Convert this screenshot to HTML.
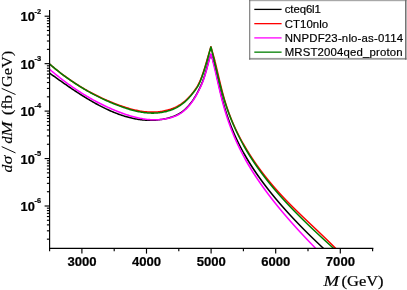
<!DOCTYPE html>
<html><head><meta charset="utf-8"><title>chart</title>
<style>html,body{margin:0;padding:0;background:#fff;}body{width:407px;height:290px;overflow:hidden;position:relative;font-family:"Liberation Sans",sans-serif;}</style>
</head><body>
<svg width="407" height="290" viewBox="0 0 407 290" style="display:block;position:absolute;left:0;top:0;will-change:transform">
<rect x="0" y="0" width="407" height="290" fill="#ffffff"/>
<defs><clipPath id="cp"><rect x="49.6" y="0" width="328.2" height="248.3"/></clipPath></defs>
<g clip-path="url(#cp)" fill="none" stroke-linejoin="round" stroke-linecap="butt">
<path d="M49.60,73.13 L50.60,73.85 L51.60,74.57 L52.60,75.29 L53.60,76.00 L54.60,76.72 L55.60,77.44 L56.60,78.15 L57.60,78.86 L58.60,79.57 L59.60,80.28 L60.60,80.99 L61.60,81.69 L62.60,82.40 L63.60,83.10 L64.60,83.79 L65.60,84.49 L66.60,85.18 L67.60,85.87 L68.60,86.56 L69.60,87.24 L70.60,87.92 L71.60,88.59 L72.60,89.27 L73.60,89.94 L74.60,90.60 L75.60,91.26 L76.60,91.92 L77.60,92.57 L78.60,93.22 L79.60,93.86 L80.60,94.50 L81.60,95.14 L82.60,95.77 L83.60,96.39 L84.60,97.01 L85.60,97.63 L86.60,98.24 L87.60,98.84 L88.60,99.44 L89.60,100.03 L90.60,100.62 L91.60,101.20 L92.60,101.77 L93.60,102.34 L94.60,102.90 L95.60,103.46 L96.60,104.01 L97.60,104.55 L98.60,105.09 L99.60,105.61 L100.60,106.14 L101.60,106.65 L102.60,107.16 L103.60,107.66 L104.60,108.15 L105.60,108.63 L106.60,109.11 L107.60,109.57 L108.60,110.03 L109.60,110.49 L110.60,110.93 L111.60,111.36 L112.60,111.79 L113.60,112.21 L114.60,112.62 L115.60,113.01 L116.60,113.40 L117.60,113.79 L118.60,114.16 L119.60,114.52 L120.60,114.87 L121.60,115.21 L122.60,115.55 L123.60,115.87 L124.60,116.18 L125.60,116.48 L126.60,116.78 L127.60,117.06 L128.60,117.33 L129.60,117.59 L130.60,117.84 L131.60,118.07 L132.60,118.30 L133.60,118.52 L134.60,118.72 L135.60,118.91 L136.60,119.09 L137.60,119.26 L138.60,119.42 L139.60,119.56 L140.60,119.69 L141.60,119.81 L142.60,119.92 L143.60,120.02 L144.60,120.10 L145.60,120.17 L146.60,120.23 L147.60,120.27 L148.60,120.30 L149.60,120.32 L150.60,120.32 L151.60,120.31 L152.60,120.29 L153.60,120.25 L154.60,120.20 L155.60,120.13 L156.60,120.05 L157.60,119.96 L158.60,119.85 L159.60,119.73 L160.60,119.59 L161.60,119.43 L162.60,119.27 L163.60,119.08 L164.60,118.88 L165.60,118.67 L166.60,118.44 L167.60,118.20 L168.60,117.94 L169.60,117.66 L170.60,117.36 L171.60,117.05 L172.60,116.71 L173.60,116.34 L174.60,115.94 L175.60,115.51 L176.60,115.04 L177.60,114.54 L178.60,114.00 L179.60,113.41 L180.60,112.78 L181.60,112.10 L182.60,111.36 L183.60,110.57 L184.60,109.73 L185.60,108.82 L186.60,107.86 L187.60,106.82 L188.60,105.72 L189.60,104.55 L190.60,103.30 L191.60,101.98 L192.60,100.58 L193.60,99.10 L194.60,97.53 L195.60,95.87 L196.60,94.13 L197.60,92.29 L198.60,90.35 L199.60,88.32 L200.60,86.19 L201.60,83.90 L202.60,81.42 L203.60,78.69 L204.60,75.67 L205.60,72.33 L206.60,68.69 L207.60,64.94 L208.60,61.29 L208.95,60.00 L210.90,54.40 L213.00,60.00 L213.48,62.00 L214.05,64.00 L214.58,66.00 L215.08,68.00 L215.55,70.00 L216.01,72.00 L216.46,74.00 L216.89,76.00 L217.33,78.00 L217.76,80.00 L218.20,82.00 L218.65,84.00 L219.09,86.00 L219.55,88.00 L220.01,90.00 L220.49,92.00 L220.97,94.00 L221.46,96.00 L221.97,98.00 L222.49,100.00 L223.03,102.00 L223.59,104.00 L224.16,106.00 L224.75,108.00 L225.36,110.00 L225.99,112.00 L226.64,114.00 L227.31,116.00 L228.00,118.00 L228.71,120.00 L229.44,122.00 L230.19,124.00 L230.96,126.00 L231.76,128.00 L232.58,130.00 L233.42,132.00 L234.28,134.00 L235.17,136.00 L236.08,138.00 L237.02,140.00 L237.98,142.00 L238.96,144.00 L239.97,146.00 L241.01,148.00 L242.07,150.00 L243.16,152.00 L244.27,154.00 L245.41,156.00 L246.58,158.00 L247.77,160.00 L248.99,162.00 L250.23,164.00 L251.50,166.00 L252.80,168.00 L254.12,170.00 L255.47,172.00 L256.84,174.00 L258.24,176.00 L259.66,178.00 L261.10,180.00 L262.57,182.00 L264.06,184.00 L265.58,186.00 L267.12,188.00 L268.68,190.00 L270.26,192.00 L271.87,194.00 L273.50,196.00 L275.15,198.00 L276.83,200.00 L278.52,202.00 L280.24,204.00 L281.98,206.00 L283.74,208.00 L285.52,210.00 L287.32,212.00 L289.15,214.00 L290.99,216.00 L292.85,218.00 L294.73,220.00 L296.64,222.00 L298.56,224.00 L300.50,226.00 L302.46,228.00 L304.44,230.00 L306.44,232.00 L308.45,234.00 L310.49,236.00 L312.54,238.00 L314.61,240.00 L316.70,242.00 L318.80,244.00 L320.92,246.00 L323.06,248.00 L325.21,250.00" stroke="#000000" stroke-width="1.55"/>
<path d="M49.60,64.07 L50.60,64.92 L51.60,65.77 L52.60,66.61 L53.60,67.44 L54.60,68.26 L55.60,69.07 L56.60,69.88 L57.60,70.67 L58.60,71.46 L59.60,72.24 L60.60,73.01 L61.60,73.77 L62.60,74.52 L63.60,75.27 L64.60,76.00 L65.60,76.73 L66.60,77.45 L67.60,78.16 L68.60,78.87 L69.60,79.57 L70.60,80.25 L71.60,80.94 L72.60,81.61 L73.60,82.27 L74.60,82.93 L75.60,83.58 L76.60,84.22 L77.60,84.86 L78.60,85.49 L79.60,86.11 L80.60,86.72 L81.60,87.32 L82.60,87.92 L83.60,88.51 L84.60,89.10 L85.60,89.67 L86.60,90.24 L87.60,90.81 L88.60,91.36 L89.60,91.91 L90.60,92.45 L91.60,92.99 L92.60,93.51 L93.60,94.04 L94.60,94.55 L95.60,95.06 L96.60,95.56 L97.60,96.05 L98.60,96.54 L99.60,97.02 L100.60,97.50 L101.60,97.97 L102.60,98.43 L103.60,98.89 L104.60,99.34 L105.60,99.78 L106.60,100.22 L107.60,100.66 L108.60,101.08 L109.60,101.50 L110.60,101.92 L111.60,102.33 L112.60,102.73 L113.60,103.13 L114.60,103.52 L115.60,103.90 L116.60,104.28 L117.60,104.66 L118.60,105.03 L119.60,105.39 L120.60,105.75 L121.60,106.10 L122.60,106.44 L123.60,106.78 L124.60,107.11 L125.60,107.43 L126.60,107.75 L127.60,108.05 L128.60,108.35 L129.60,108.64 L130.60,108.92 L131.60,109.19 L132.60,109.45 L133.60,109.70 L134.60,109.93 L135.60,110.16 L136.60,110.38 L137.60,110.59 L138.60,110.78 L139.60,110.97 L140.60,111.14 L141.60,111.30 L142.60,111.44 L143.60,111.58 L144.60,111.69 L145.60,111.80 L146.60,111.89 L147.60,111.97 L148.60,112.03 L149.60,112.08 L150.60,112.12 L151.60,112.14 L152.60,112.14 L153.60,112.12 L154.60,112.10 L155.60,112.05 L156.60,111.99 L157.60,111.91 L158.60,111.81 L159.60,111.69 L160.60,111.56 L161.60,111.41 L162.60,111.24 L163.60,111.05 L164.60,110.84 L165.60,110.61 L166.60,110.36 L167.60,110.10 L168.60,109.81 L169.60,109.50 L170.60,109.17 L171.60,108.81 L172.60,108.43 L173.60,108.02 L174.60,107.59 L175.60,107.12 L176.60,106.62 L177.60,106.09 L178.60,105.53 L179.60,104.93 L180.60,104.29 L181.60,103.61 L182.60,102.89 L183.60,102.13 L184.60,101.33 L185.60,100.48 L186.60,99.58 L187.60,98.64 L188.60,97.64 L189.60,96.59 L190.60,95.49 L191.60,94.33 L192.60,93.11 L193.60,91.83 L194.60,90.49 L195.60,89.07 L196.60,87.54 L197.60,85.84 L198.60,83.95 L199.60,81.83 L200.60,79.48 L201.60,76.93 L202.60,74.17 L203.60,71.23 L204.60,68.12 L205.60,64.88 L206.60,61.53 L207.05,60.00 L210.90,46.70 L214.65,60.00 L215.10,62.00 L215.60,64.00 L216.08,66.00 L216.56,68.00 L217.04,70.00 L217.51,72.00 L217.98,74.00 L218.45,76.00 L218.92,78.00 L219.39,80.00 L219.87,82.00 L220.35,84.00 L220.84,86.00 L221.34,88.00 L221.85,90.00 L222.37,92.00 L222.91,94.00 L223.46,96.00 L224.02,98.00 L224.60,100.00 L225.21,102.00 L225.83,104.00 L226.47,106.00 L227.14,108.00 L227.84,110.00 L228.55,112.00 L229.29,114.00 L230.05,116.00 L230.84,118.00 L231.65,120.00 L232.49,122.00 L233.35,124.00 L234.23,126.00 L235.14,128.00 L236.08,130.00 L237.04,132.00 L238.03,134.00 L239.04,136.00 L240.08,138.00 L241.14,140.00 L242.23,142.00 L243.35,144.00 L244.49,146.00 L245.66,148.00 L246.86,150.00 L248.08,152.00 L249.33,154.00 L250.61,156.00 L251.92,158.00 L253.25,160.00 L254.61,162.00 L256.00,164.00 L257.42,166.00 L258.86,168.00 L260.34,170.00 L261.84,172.00 L263.37,174.00 L264.93,176.00 L266.51,178.00 L268.13,180.00 L269.77,182.00 L271.44,184.00 L273.15,186.00 L274.88,188.00 L276.64,190.00 L278.42,192.00 L280.24,194.00 L282.09,196.00 L283.96,198.00 L285.87,200.00 L287.80,202.00 L289.77,204.00 L291.75,206.00 L293.76,208.00 L295.79,210.00 L297.84,212.00 L299.91,214.00 L301.98,216.00 L304.07,218.00 L306.17,220.00 L308.28,222.00 L310.39,224.00 L312.51,226.00 L314.62,228.00 L316.73,230.00 L318.84,232.00 L320.94,234.00 L323.03,236.00 L325.12,238.00 L327.19,240.00 L329.24,242.00 L331.28,244.00 L333.29,246.00 L335.29,248.00 L337.26,250.00" stroke="#ff0000" stroke-width="1.55"/>
<path d="M49.60,69.28 L50.60,70.14 L51.60,70.98 L52.60,71.82 L53.60,72.66 L54.60,73.48 L55.60,74.30 L56.60,75.11 L57.60,75.91 L58.60,76.71 L59.60,77.50 L60.60,78.28 L61.60,79.05 L62.60,79.82 L63.60,80.58 L64.60,81.33 L65.60,82.08 L66.60,82.81 L67.60,83.55 L68.60,84.27 L69.60,84.99 L70.60,85.70 L71.60,86.40 L72.60,87.09 L73.60,87.78 L74.60,88.46 L75.60,89.14 L76.60,89.81 L77.60,90.47 L78.60,91.12 L79.60,91.77 L80.60,92.41 L81.60,93.04 L82.60,93.67 L83.60,94.29 L84.60,94.90 L85.60,95.51 L86.60,96.10 L87.60,96.70 L88.60,97.28 L89.60,97.86 L90.60,98.43 L91.60,99.00 L92.60,99.56 L93.60,100.11 L94.60,100.66 L95.60,101.20 L96.60,101.73 L97.60,102.25 L98.60,102.77 L99.60,103.29 L100.60,103.79 L101.60,104.29 L102.60,104.79 L103.60,105.27 L104.60,105.75 L105.60,106.23 L106.60,106.70 L107.60,107.16 L108.60,107.61 L109.60,108.06 L110.60,108.50 L111.60,108.94 L112.60,109.37 L113.60,109.79 L114.60,110.21 L115.60,110.62 L116.60,111.03 L117.60,111.43 L118.60,111.82 L119.60,112.21 L120.60,112.59 L121.60,112.96 L122.60,113.32 L123.60,113.68 L124.60,114.03 L125.60,114.37 L126.60,114.71 L127.60,115.03 L128.60,115.35 L129.60,115.66 L130.60,115.96 L131.60,116.25 L132.60,116.53 L133.60,116.80 L134.60,117.06 L135.60,117.31 L136.60,117.55 L137.60,117.77 L138.60,117.99 L139.60,118.20 L140.60,118.39 L141.60,118.58 L142.60,118.75 L143.60,118.91 L144.60,119.05 L145.60,119.18 L146.60,119.31 L147.60,119.41 L148.60,119.51 L149.60,119.59 L150.60,119.65 L151.60,119.70 L152.60,119.74 L153.60,119.77 L154.60,119.77 L155.60,119.77 L156.60,119.74 L157.60,119.71 L158.60,119.65 L159.60,119.58 L160.60,119.50 L161.60,119.39 L162.60,119.27 L163.60,119.14 L164.60,118.98 L165.60,118.81 L166.60,118.62 L167.60,118.42 L168.60,118.19 L169.60,117.95 L170.60,117.68 L171.60,117.39 L172.60,117.08 L173.60,116.73 L174.60,116.36 L175.60,115.95 L176.60,115.50 L177.60,115.01 L178.60,114.48 L179.60,113.91 L180.60,113.29 L181.60,112.62 L182.60,111.90 L183.60,111.12 L184.60,110.28 L185.60,109.38 L186.60,108.42 L187.60,107.40 L188.60,106.30 L189.60,105.14 L190.60,103.90 L191.60,102.58 L192.60,101.19 L193.60,99.71 L194.60,98.15 L195.60,96.50 L196.60,94.76 L197.60,92.93 L198.60,91.01 L199.60,88.99 L200.60,86.87 L201.60,84.62 L202.60,82.17 L203.60,79.47 L204.60,76.51 L205.60,73.28 L206.60,69.80 L207.60,66.14 L208.60,62.41 L209.20,60.00 L210.90,54.10 L212.70,60.00 L213.04,62.00 L213.55,64.00 L214.05,66.00 L214.53,68.00 L215.01,70.00 L215.48,72.00 L215.95,74.00 L216.41,76.00 L216.87,78.00 L217.32,80.00 L217.78,82.00 L218.23,84.00 L218.69,86.00 L219.15,88.00 L219.62,90.00 L220.09,92.00 L220.56,94.00 L221.05,96.00 L221.55,98.00 L222.05,100.00 L222.57,102.00 L223.10,104.00 L223.65,106.00 L224.21,108.00 L224.79,110.00 L225.39,112.00 L226.00,114.00 L226.63,116.00 L227.28,118.00 L227.94,120.00 L228.63,122.00 L229.33,124.00 L230.05,126.00 L230.80,128.00 L231.56,130.00 L232.34,132.00 L233.15,134.00 L233.97,136.00 L234.82,138.00 L235.69,140.00 L236.58,142.00 L237.49,144.00 L238.43,146.00 L239.39,148.00 L240.38,150.00 L241.39,152.00 L242.42,154.00 L243.48,156.00 L244.57,158.00 L245.68,160.00 L246.81,162.00 L247.97,164.00 L249.16,166.00 L250.37,168.00 L251.60,170.00 L252.85,172.00 L254.13,174.00 L255.43,176.00 L256.75,178.00 L258.10,180.00 L259.47,182.00 L260.86,184.00 L262.27,186.00 L263.70,188.00 L265.15,190.00 L266.63,192.00 L268.12,194.00 L269.64,196.00 L271.17,198.00 L272.73,200.00 L274.30,202.00 L275.90,204.00 L277.51,206.00 L279.14,208.00 L280.79,210.00 L282.46,212.00 L284.15,214.00 L285.85,216.00 L287.58,218.00 L289.32,220.00 L291.07,222.00 L292.85,224.00 L294.64,226.00 L296.44,228.00 L298.27,230.00 L300.10,232.00 L301.96,234.00 L303.83,236.00 L305.71,238.00 L307.61,240.00 L309.52,242.00 L311.45,244.00 L313.39,246.00 L315.34,248.00 L317.31,250.00" stroke="#ff00ff" stroke-width="1.55"/>
<path d="M49.60,64.07 L50.60,64.93 L51.60,65.78 L52.60,66.62 L53.60,67.45 L54.60,68.28 L55.60,69.09 L56.60,69.90 L57.60,70.70 L58.60,71.49 L59.60,72.28 L60.60,73.05 L61.60,73.82 L62.60,74.58 L63.60,75.33 L64.60,76.07 L65.60,76.81 L66.60,77.54 L67.60,78.25 L68.60,78.97 L69.60,79.67 L70.60,80.37 L71.60,81.05 L72.60,81.73 L73.60,82.41 L74.60,83.07 L75.60,83.73 L76.60,84.38 L77.60,85.02 L78.60,85.66 L79.60,86.29 L80.60,86.91 L81.60,87.52 L82.60,88.13 L83.60,88.73 L84.60,89.32 L85.60,89.91 L86.60,90.49 L87.60,91.06 L88.60,91.63 L89.60,92.18 L90.60,92.74 L91.60,93.28 L92.60,93.82 L93.60,94.35 L94.60,94.88 L95.60,95.39 L96.60,95.91 L97.60,96.41 L98.60,96.91 L99.60,97.41 L100.60,97.89 L101.60,98.37 L102.60,98.85 L103.60,99.32 L104.60,99.78 L105.60,100.23 L106.60,100.69 L107.60,101.13 L108.60,101.57 L109.60,102.00 L110.60,102.43 L111.60,102.85 L112.60,103.27 L113.60,103.68 L114.60,104.08 L115.60,104.48 L116.60,104.87 L117.60,105.26 L118.60,105.64 L119.60,106.02 L120.60,106.39 L121.60,106.75 L122.60,107.11 L123.60,107.46 L124.60,107.80 L125.60,108.14 L126.60,108.47 L127.60,108.78 L128.60,109.09 L129.60,109.40 L130.60,109.69 L131.60,109.97 L132.60,110.24 L133.60,110.50 L134.60,110.76 L135.60,111.00 L136.60,111.23 L137.60,111.44 L138.60,111.65 L139.60,111.84 L140.60,112.03 L141.60,112.20 L142.60,112.35 L143.60,112.49 L144.60,112.62 L145.60,112.74 L146.60,112.84 L147.60,112.93 L148.60,113.00 L149.60,113.05 L150.60,113.10 L151.60,113.12 L152.60,113.13 L153.60,113.12 L154.60,113.10 L155.60,113.06 L156.60,113.00 L157.60,112.92 L158.60,112.83 L159.60,112.71 L160.60,112.58 L161.60,112.43 L162.60,112.26 L163.60,112.07 L164.60,111.86 L165.60,111.63 L166.60,111.38 L167.60,111.11 L168.60,110.82 L169.60,110.51 L170.60,110.17 L171.60,109.81 L172.60,109.42 L173.60,109.00 L174.60,108.56 L175.60,108.08 L176.60,107.57 L177.60,107.02 L178.60,106.43 L179.60,105.81 L180.60,105.15 L181.60,104.44 L182.60,103.69 L183.60,102.89 L184.60,102.05 L185.60,101.15 L186.60,100.21 L187.60,99.21 L188.60,98.17 L189.60,97.08 L190.60,95.94 L191.60,94.75 L192.60,93.53 L193.60,92.26 L194.60,90.96 L195.60,89.61 L196.60,88.18 L197.60,86.60 L198.60,84.81 L199.60,82.77 L200.60,80.45 L201.60,77.90 L202.60,75.13 L203.60,72.17 L204.60,69.05 L205.60,65.79 L206.60,62.41 L207.30,60.00 L210.90,47.00 L214.20,60.00 L214.61,62.00 L215.08,64.00 L215.55,66.00 L216.02,68.00 L216.49,70.00 L216.96,72.00 L217.43,74.00 L217.91,76.00 L218.39,78.00 L218.88,80.00 L219.38,82.00 L219.88,84.00 L220.39,86.00 L220.91,88.00 L221.44,90.00 L221.98,92.00 L222.54,94.00 L223.11,96.00 L223.70,98.00 L224.30,100.00 L224.92,102.00 L225.55,104.00 L226.21,106.00 L226.89,108.00 L227.59,110.00 L228.31,112.00 L229.04,114.00 L229.81,116.00 L230.59,118.00 L231.39,120.00 L232.22,122.00 L233.07,124.00 L233.94,126.00 L234.83,128.00 L235.75,130.00 L236.69,132.00 L237.65,134.00 L238.64,136.00 L239.65,138.00 L240.69,140.00 L241.75,142.00 L242.84,144.00 L243.95,146.00 L245.09,148.00 L246.25,150.00 L247.44,152.00 L248.66,154.00 L249.90,156.00 L251.17,158.00 L252.47,160.00 L253.79,162.00 L255.14,164.00 L256.52,166.00 L257.92,168.00 L259.35,170.00 L260.81,172.00 L262.29,174.00 L263.80,176.00 L265.33,178.00 L266.89,180.00 L268.47,182.00 L270.08,184.00 L271.72,186.00 L273.38,188.00 L275.07,190.00 L276.79,192.00 L278.52,194.00 L280.29,196.00 L282.08,198.00 L283.89,200.00 L285.73,202.00 L287.60,204.00 L289.48,206.00 L291.39,208.00 L293.33,210.00 L295.28,212.00 L297.25,214.00 L299.25,216.00 L301.26,218.00 L303.29,220.00 L305.34,222.00 L307.40,224.00 L309.48,226.00 L311.57,228.00 L313.68,230.00 L315.80,232.00 L317.94,234.00 L320.08,236.00 L322.24,238.00 L324.41,240.00 L326.59,242.00 L328.77,244.00 L330.96,246.00 L333.16,248.00 L335.37,250.00" stroke="#007f00" stroke-width="1.55"/>
</g>
<g stroke="#000" stroke-width="1.15" fill="none" stroke-linecap="butt">
<path d="M49.6,10.0 L49.6,248.85000000000002"/>
<path d="M49.050000000000004,248.3 L373.35,248.3"/>
<path d="M49.60,248.3 L49.60,251.3"/>
<path d="M81.90,248.3 L81.90,253.60000000000002"/>
<path d="M114.20,248.3 L114.20,251.3"/>
<path d="M146.50,248.3 L146.50,253.60000000000002"/>
<path d="M178.80,248.3 L178.80,251.3"/>
<path d="M211.10,248.3 L211.10,253.60000000000002"/>
<path d="M243.40,248.3 L243.40,251.3"/>
<path d="M275.70,248.3 L275.70,253.60000000000002"/>
<path d="M308.00,248.3 L308.00,251.3"/>
<path d="M340.30,248.3 L340.30,253.60000000000002"/>
<path d="M372.60,248.3 L372.60,251.3"/>
<path d="M49.6,239.17 L46.9,239.17"/>
<path d="M49.6,230.81 L46.9,230.81"/>
<path d="M49.6,224.88 L46.9,224.88"/>
<path d="M49.6,220.28 L46.9,220.28"/>
<path d="M49.6,216.53 L46.9,216.53"/>
<path d="M49.6,213.35 L46.9,213.35"/>
<path d="M49.6,210.60 L46.9,210.60"/>
<path d="M49.6,208.17 L46.9,208.17"/>
<path d="M49.6,206.00 L44.6,206.00"/>
<path d="M49.6,191.72 L46.9,191.72"/>
<path d="M49.6,183.36 L46.9,183.36"/>
<path d="M49.6,177.43 L46.9,177.43"/>
<path d="M49.6,172.83 L46.9,172.83"/>
<path d="M49.6,169.08 L46.9,169.08"/>
<path d="M49.6,165.90 L46.9,165.90"/>
<path d="M49.6,163.15 L46.9,163.15"/>
<path d="M49.6,160.72 L46.9,160.72"/>
<path d="M49.6,158.55 L44.6,158.55"/>
<path d="M49.6,144.27 L46.9,144.27"/>
<path d="M49.6,135.91 L46.9,135.91"/>
<path d="M49.6,129.98 L46.9,129.98"/>
<path d="M49.6,125.38 L46.9,125.38"/>
<path d="M49.6,121.63 L46.9,121.63"/>
<path d="M49.6,118.45 L46.9,118.45"/>
<path d="M49.6,115.70 L46.9,115.70"/>
<path d="M49.6,113.27 L46.9,113.27"/>
<path d="M49.6,111.10 L44.6,111.10"/>
<path d="M49.6,96.82 L46.9,96.82"/>
<path d="M49.6,88.46 L46.9,88.46"/>
<path d="M49.6,82.53 L46.9,82.53"/>
<path d="M49.6,77.93 L46.9,77.93"/>
<path d="M49.6,74.18 L46.9,74.18"/>
<path d="M49.6,71.00 L46.9,71.00"/>
<path d="M49.6,68.25 L46.9,68.25"/>
<path d="M49.6,65.82 L46.9,65.82"/>
<path d="M49.6,63.65 L44.6,63.65"/>
<path d="M49.6,49.37 L46.9,49.37"/>
<path d="M49.6,41.01 L46.9,41.01"/>
<path d="M49.6,35.08 L46.9,35.08"/>
<path d="M49.6,30.48 L46.9,30.48"/>
<path d="M49.6,26.73 L46.9,26.73"/>
<path d="M49.6,23.55 L46.9,23.55"/>
<path d="M49.6,20.80 L46.9,20.80"/>
<path d="M49.6,18.37 L46.9,18.37"/>
<path d="M49.6,16.20 L44.6,16.20"/>
</g>
<g font-family="'Liberation Sans', sans-serif" font-weight="bold" fill="#000" stroke="#000" stroke-width="0.22" stroke-linejoin="round">
<text x="82.00" y="265.9" font-size="13.1" text-anchor="middle">3000</text>
<text x="146.60" y="265.9" font-size="13.1" text-anchor="middle">4000</text>
<text x="211.20" y="265.9" font-size="13.1" text-anchor="middle">5000</text>
<text x="275.80" y="265.9" font-size="13.1" text-anchor="middle">6000</text>
<text x="340.40" y="265.9" font-size="13.1" text-anchor="middle">7000</text>
<text x="20.55" y="211.00" font-size="12.8">10</text>
<text x="34.6" y="203.30" font-size="7.4">-6</text>
<text x="20.55" y="163.55" font-size="12.8">10</text>
<text x="34.6" y="155.85" font-size="7.4">-5</text>
<text x="20.55" y="116.10" font-size="12.8">10</text>
<text x="34.6" y="108.40" font-size="7.4">-4</text>
<text x="20.55" y="68.65" font-size="12.8">10</text>
<text x="34.6" y="60.95" font-size="7.4">-3</text>
<text x="20.55" y="21.20" font-size="12.8">10</text>
<text x="34.6" y="13.50" font-size="7.4">-2</text>
</g>
<g font-family="'Liberation Serif', serif" fill="#000" font-size="14">
<text x="323.6" y="286.2" textLength="15.6" lengthAdjust="spacingAndGlyphs" font-style="italic" stroke="#000" stroke-width="0.15">M</text>
<text x="341.6" y="286.2" textLength="42.0" lengthAdjust="spacingAndGlyphs" stroke="#000" stroke-width="0.2">(GeV)</text>
<g transform="translate(12.3,172.8) rotate(-90)" stroke="#000" stroke-width="0.15">
<text x="0.2" y="0" font-style="italic" textLength="7.8" lengthAdjust="spacingAndGlyphs">d</text>
<text x="8.6" y="0" font-style="italic" textLength="8.6" lengthAdjust="spacingAndGlyphs">σ</text>
<path d="M19.9,3.2 L26.2,-10.6" stroke-width="0.95" fill="none"/>
<text x="29.2" y="0" font-style="italic" textLength="7.0" lengthAdjust="spacingAndGlyphs">d</text>
<text x="36.3" y="0" font-style="italic" textLength="15.0" lengthAdjust="spacingAndGlyphs">M</text>
<text x="57.5" y="0" textLength="20.3" lengthAdjust="spacingAndGlyphs">(fb</text>
<path d="M78.3,3.2 L84.4,-10.6" stroke-width="0.95" fill="none"/>
<text x="85.8" y="0" textLength="36.3" lengthAdjust="spacingAndGlyphs">GeV)</text>
</g>
</g>
<rect x="249.2" y="0" width="157.3" height="59.6" fill="#fff"/>
<rect x="249.2" y="0" width="157.3" height="1.2" fill="#a8a8a8"/>
<rect x="249.2" y="57.9" width="157.3" height="1.8" fill="#9a9a9a"/>
<rect x="249.2" y="0" width="1.05" height="59.7" fill="#6e6e6e"/>
<rect x="405.1" y="0" width="1.4" height="59.7" fill="#666666"/>
<path d="M254.3,9.40 L281.6,9.40" stroke="#000000" stroke-width="1.3" fill="none"/>
<text x="284.7" y="13.40" font-family="'Liberation Sans', sans-serif" font-size="11.4" textLength="36.2" fill="#000" stroke="#000" stroke-width="0.18">cteq6l1</text>
<path d="M254.3,23.65 L281.6,23.65" stroke="#ff0000" stroke-width="1.3" fill="none"/>
<text x="284.7" y="27.65" font-family="'Liberation Sans', sans-serif" font-size="11.4" textLength="43.4" fill="#000" stroke="#000" stroke-width="0.18">CT10nlo</text>
<path d="M254.3,37.90 L281.6,37.90" stroke="#ff00ff" stroke-width="1.3" fill="none"/>
<text x="284.7" y="41.90" font-family="'Liberation Sans', sans-serif" font-size="11.4" textLength="118.3" fill="#000" stroke="#000" stroke-width="0.18">NNPDF23-nlo-as-0114</text>
<path d="M254.3,52.15 L281.6,52.15" stroke="#007f00" stroke-width="1.3" fill="none"/>
<text x="284.7" y="56.15" font-family="'Liberation Sans', sans-serif" font-size="11.4" textLength="118.0" fill="#000" stroke="#000" stroke-width="0.18">MRST2004qed_proton</text>
</svg>
</body></html>
